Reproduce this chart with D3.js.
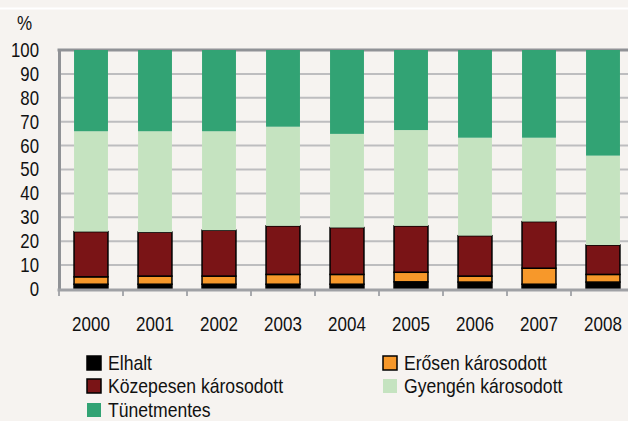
<!DOCTYPE html>
<html>
<head>
<meta charset="utf-8">
<script src="https://cdn.jsdelivr.net/npm/d3@7"></script>
<style>
  body { margin: 0; background: #f6f3f0; }
  svg { display: block; }
</style>
</head>
<body>
<svg id="drawing_region"></svg>
<script>
// data
const years = ['2000', '2001', '2002', '2003', '2004', '2005', '2006', '2007', '2008'];
const elhalt = [2.0, 2.0, 2.0, 2.0, 2.0, 3.0, 2.9, 2.0, 2.9];
const erosen = [3.1, 3.4, 3.4, 4.1, 4.1, 4.0, 2.5, 6.7, 3.2];
const kozepesen = [18.9, 18.4, 19.2, 20.3, 19.6, 19.4, 16.9, 19.5, 12.3];
const gyengen = [42.0, 42.2, 41.4, 41.5, 39.2, 40.1, 41.0, 35.1, 37.4];
const tunetmentes = [34.0, 34.0, 34.0, 32.1, 35.1, 33.5, 36.7, 36.7, 44.2];
const yTicks = [0, 10, 20, 30, 40, 50, 60, 70, 80, 90, 100];

const series = [
    { key: 'Elhalt', values: elhalt, color: '#000000', stroke: true },
    { key: 'Erősen károsodott', values: erosen, color: '#f7982a', stroke: true },
    { key: 'Közepesen károsodott', values: kozepesen, color: '#7a1416', stroke: true },
    { key: 'Gyengén károsodott', values: gyengen, color: '#c5e3c0', stroke: false },
    { key: 'Tünetmentes', values: tunetmentes, color: '#32a374', stroke: false }
];

const width = 628, height = 421;
const margin = { top: 50, left: 59, bottom: 289, right: 635 };
const font = '"Liberation Sans", Arial, sans-serif';
const fontSize = 20;

// narrow the glyphs horizontally (the original uses a condensed face)
function squeeze(sel, sx) {
    sel.each(function () {
        const t = d3.select(this);
        const x = +t.attr('x') || 0;
        t.attr('x', 0).attr('transform', `translate(${x},0) scale(${sx},1)`);
    });
}

const svg = d3.select('#drawing_region')
    .attr('width', width)
    .attr('height', height)
    .style('font-family', font);

svg.append('rect').attr('width', width).attr('height', height).attr('fill', '#f6f3f0');
svg.append('line')
    .attr('x1', 0).attr('x2', width).attr('y1', 8.5).attr('y2', 8.5)
    .attr('stroke', '#ffffff').attr('stroke-width', 2);

const table = years.map((y, i) => {
    const row = { year: y };
    series.forEach(s => { row[s.key] = s.values[i]; });
    return row;
});
const stacked = d3.stack().keys(series.map(s => s.key))(table);

const xscale = d3.scaleBand()
    .domain(years)
    .range([margin.left, margin.right])
    .paddingInner(0.47)
    .paddingOuter(0.235);
const yscale = d3.scaleLinear()
    .domain([0, 100])
    .range([margin.bottom, margin.top]);

// gridlines
svg.append('g')
    .selectAll('line')
    .data(yTicks.filter(t => t > 0 && t < 100))
    .join('line')
    .attr('x1', margin.left).attr('x2', width)
    .attr('y1', d => yscale(d)).attr('y2', d => yscale(d))
    .attr('stroke', '#bdbdbf').attr('stroke-width', 2);

// top border
svg.append('line')
    .attr('x1', margin.left - 1.5).attr('x2', width)
    .attr('y1', yscale(100)).attr('y2', yscale(100))
    .attr('stroke', '#909296').attr('stroke-width', 3);

// bars
const layers = svg.append('g')
    .selectAll('g')
    .data(stacked)
    .join('g')
    .attr('fill', (d, i) => series[i].color)
    .attr('stroke', (d, i) => series[i].stroke ? '#000000' : 'none')
    .attr('stroke-width', 1.5);
layers.selectAll('rect')
    .data(d => d)
    .join('rect')
    .attr('x', d => xscale(d.data.year))
    .attr('y', d => yscale(d[1]))
    .attr('width', xscale.bandwidth())
    .attr('height', d => yscale(d[0]) - yscale(d[1]));

// y axis
const yaxis = d3.axisLeft(yscale).tickValues(yTicks).tickSize(0).tickPadding(20);
const yaxis_group = svg.append('g')
    .attr('transform', `translate(${margin.left}, 0)`)
    .call(yaxis);
yaxis_group.select('.domain').attr('stroke', '#909296').attr('stroke-width', 3);
yaxis_group.selectAll('text')
    .attr('font-size', fontSize)
    .attr('font-family', font)
    .attr('fill', '#111111')
    .call(squeeze, 0.84);

// x axis
const xaxis = d3.axisBottom(xscale).tickSize(0).tickPadding(28);
const xaxis_group = svg.append('g')
    .attr('transform', `translate(0, ${margin.bottom})`)
    .call(xaxis);
xaxis_group.select('.domain').remove();
xaxis_group.selectAll('text')
    .attr('font-size', fontSize)
    .attr('font-family', font)
    .attr('fill', '#111111')
    .call(squeeze, 0.85);

// tick marks between categories
const step = xscale.step();
svg.append('g')
    .selectAll('line')
    .data(d3.range(years.length + 1))
    .join('line')
    .attr('x1', i => margin.left + i * step).attr('x2', i => margin.left + i * step)
    .attr('y1', margin.bottom).attr('y2', margin.bottom + 7)
    .attr('stroke', '#a8a9ad').attr('stroke-width', 2);

svg.append('line')
    .attr('x1', margin.left - 1.5).attr('x2', width)
    .attr('y1', margin.bottom + 1).attr('y2', margin.bottom + 1)
    .attr('stroke', '#a0a1a5').attr('stroke-width', 3);

svg.append('text')
    .attr('x', 17).attr('y', 30)
    .attr('font-size', fontSize)
    .attr('fill', '#111111')
    .text('%')
    .call(squeeze, 0.85);

// legend
const legendPos = [
    { x: 87, y: 363 }, { x: 383, y: 363 },
    { x: 87, y: 386 }, { x: 383, y: 386 },
    { x: 87, y: 410 }
];
const legend = svg.append('g')
    .selectAll('g')
    .data(series)
    .join('g')
    .attr('transform', (d, i) => `translate(${legendPos[i].x}, ${legendPos[i].y})`);
legend.append('rect')
    .attr('x', 0).attr('y', -7)
    .attr('width', 14).attr('height', 14)
    .attr('fill', d => d.color)
    .attr('stroke', d => d.stroke ? '#000000' : 'none')
    .attr('stroke-width', 1.5);
legend.append('text')
    .attr('x', 21).attr('y', 7)
    .attr('font-size', fontSize)
    .attr('fill', '#111111')
    .text(d => d.key)
    .call(squeeze, 0.88);
</script>
</body>
</html>
